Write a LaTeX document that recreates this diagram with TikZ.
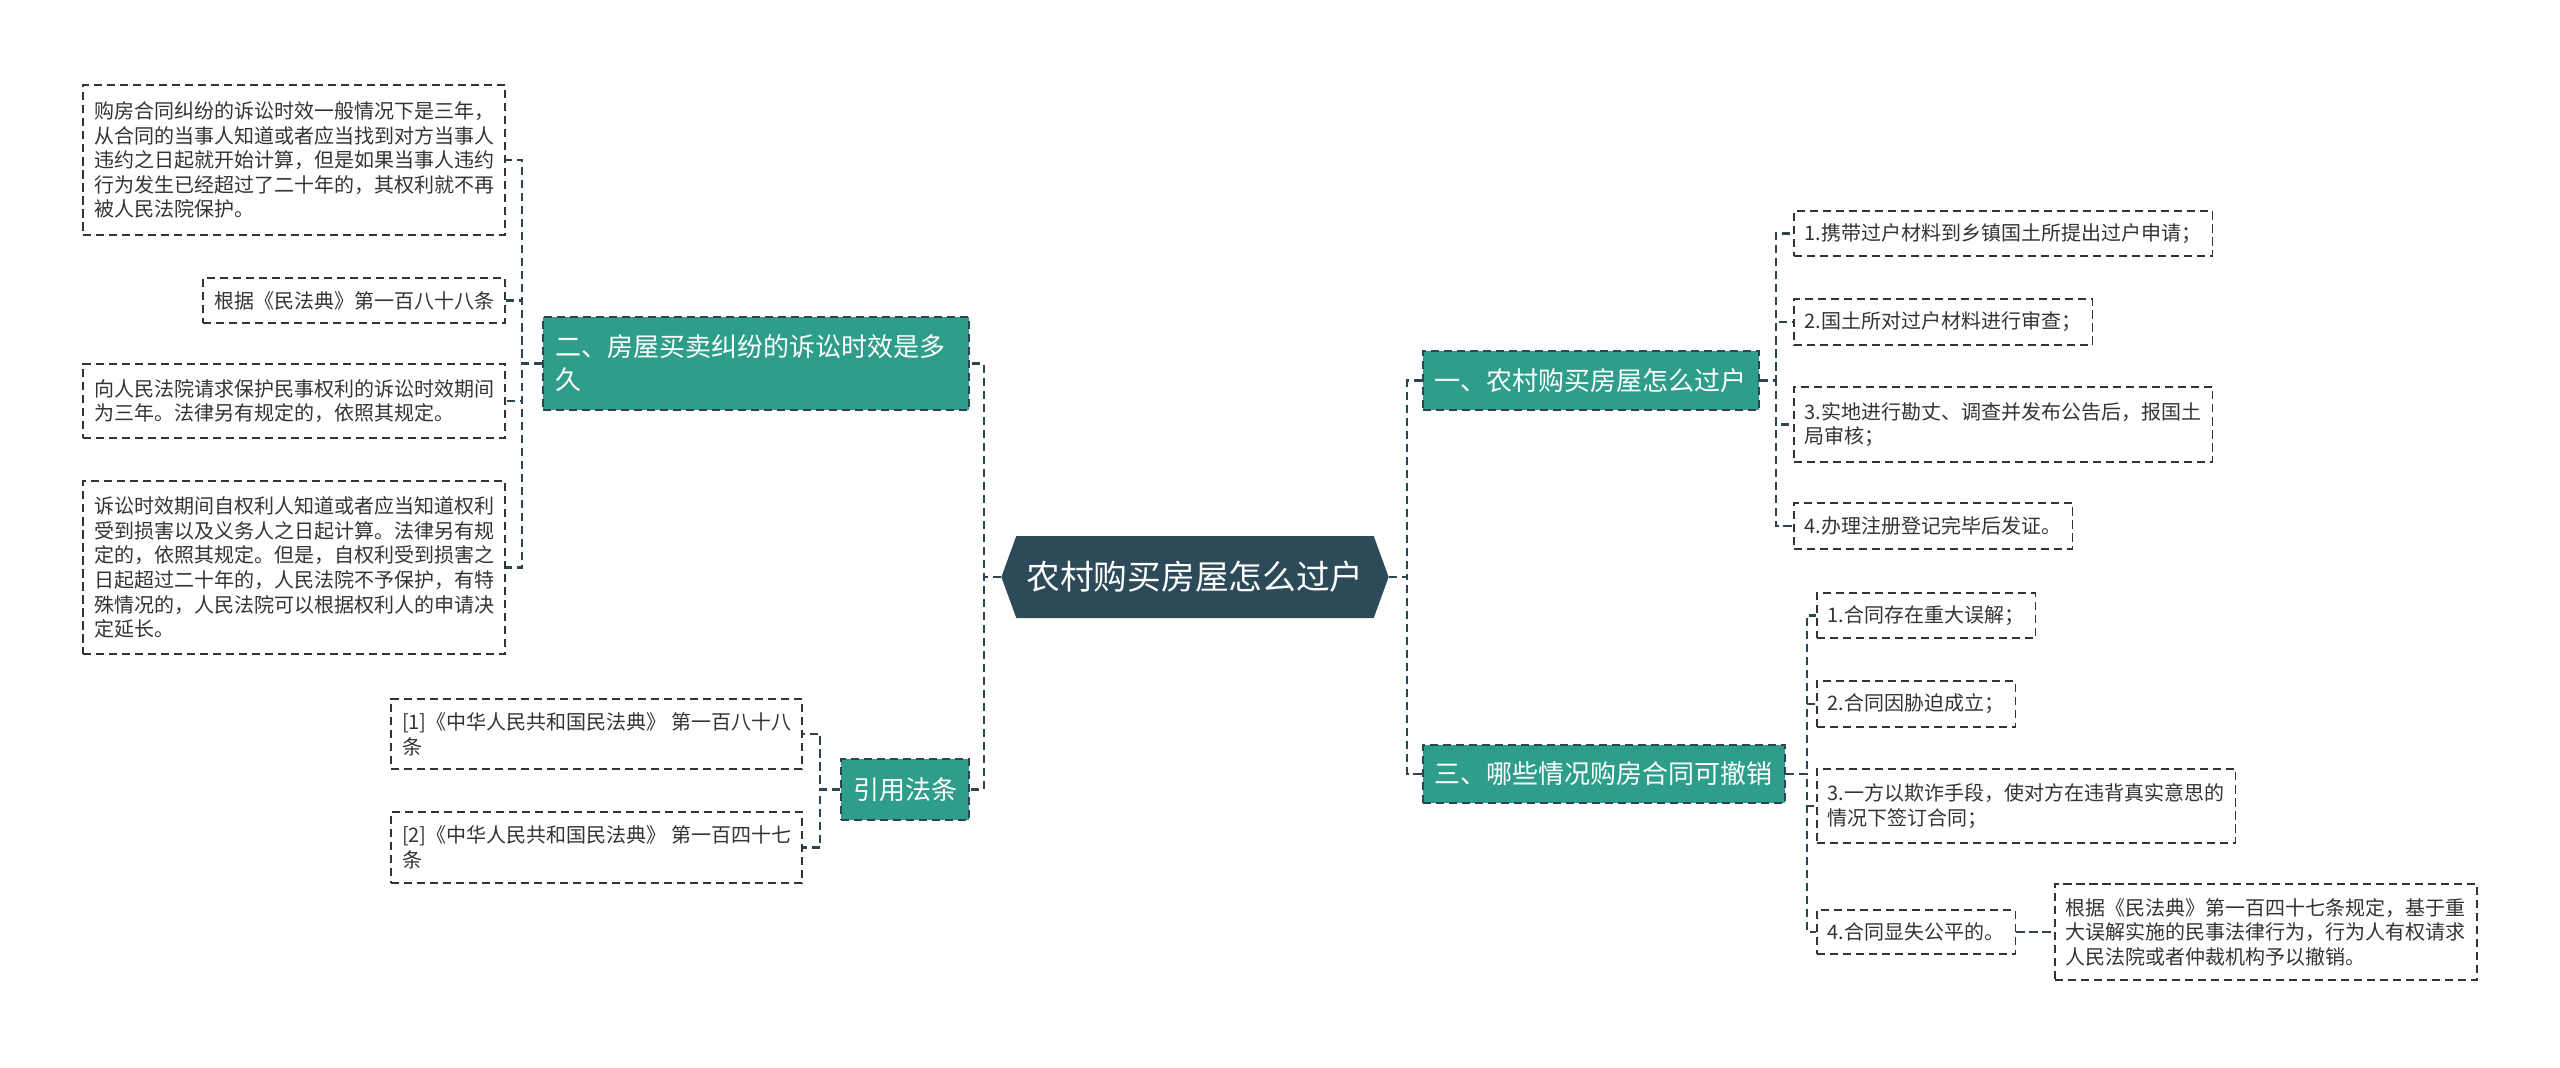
\documentclass[tikz,border=0pt]{standalone}
\usepackage{fontspec}
\setmainfont{Noto Sans CJK SC}
\usepackage{xcolor}
\usepackage{tikz}
\usetikzlibrary{shapes.symbols,positioning}
\definecolor{rootfill}{HTML}{2C4A57}
\definecolor{topicfill}{HTML}{2E9E8B}
\definecolor{linecol}{HTML}{2E4551}
\definecolor{textcol}{HTML}{333333}

\begin{document}
\begin{tikzpicture}[
        root/.style={signal, signal to=west and east, signal pointer angle=140,
                     fill=rootfill, text=white, minimum width=3.80cm, minimum height=0.82cm,
                     inner xsep=0.1cm, font=\fontsize{9.6pt}{11pt}\selectfont},
        topic/.style={fill=topicfill, draw=linecol, dash pattern=on 2.3pt off 1.4pt, line width=0.5pt,
                      text=white, align=left, inner xsep=0.12cm, font=\fontsize{7.4pt}{9.4pt}\selectfont},
        leaf/.style={draw=textcol, dash pattern=on 2.3pt off 1.4pt, line width=0.5pt,
                     text=textcol, align=left, inner xsep=0.11cm, inner ysep=0.08cm,
                     font=\fontsize{5.69pt}{7.0pt}\selectfont},
        conn/.style={draw=linecol, dash pattern=on 2.3pt off 1.4pt, line width=0.6pt},
    ]
    \useasboundingbox (0,0) rectangle (25.6,-10.67);

    % Root
    \node[root] (cen) at (11.95,-5.77) {农村购买房屋怎么过户};

    % Topics, left side
    \node[topic, anchor=east, text width=4.02cm, minimum height=0.93cm] (b2) at (9.70,-3.635)
        {二、房屋买卖纠纷的诉讼时效是多\\久};
    \node[topic, anchor=east, minimum height=0.61cm] (b4) at (9.70,-7.895) {引用法条};

    % Topics, right side
    \node[topic, anchor=west, minimum height=0.59cm] (b1) at (14.22,-3.805) {一、农村购买房屋怎么过户};
    \node[topic, anchor=west, minimum height=0.58cm] (b3) at (14.22,-7.74) {三、哪些情况购房合同可撤销};

    % Leaves of b2
    \node[leaf, anchor=east, minimum height=1.50cm] (e1) at (5.06,-1.60)
        {购房合同纠纷的诉讼时效一般情况下是三年，\\从合同的当事人知道或者应当找到对方当事人\\违约之日起就开始计算，但是如果当事人违约\\行为发生已经超过了二十年的，其权利就不再\\被人民法院保护。};
    \node[leaf, anchor=east, minimum height=0.45cm] (e2) at (5.06,-3.005) {根据《民法典》第一百八十八条};
    \node[leaf, anchor=east, minimum height=0.74cm] (e3) at (5.06,-4.01)
        {向人民法院请求保护民事权利的诉讼时效期间\\为三年。法律另有规定的，依照其规定。};
    \node[leaf, anchor=east, minimum height=1.73cm] (e4) at (5.06,-5.675)
        {诉讼时效期间自权利人知道或者应当知道权利\\受到损害以及义务人之日起计算。法律另有规\\定的，依照其规定。但是，自权利受到损害之\\日起超过二十年的，人民法院不予保护，有特\\殊情况的，人民法院可以根据权利人的申请决\\定延长。};

    % Leaves of b4
    \node[leaf, anchor=east, minimum height=0.70cm] (f1) at (8.03,-7.34)
        {[1]《中华人民共和国民法典》 第一百八十八\\条};
    \node[leaf, anchor=east, minimum height=0.71cm] (f2) at (8.03,-8.475)
        {[2]《中华人民共和国民法典》 第一百四十七\\条};

    % Leaves of b1
    \node[leaf, anchor=west, minimum height=0.45cm] (r1) at (17.93,-2.335) {1.携带过户材料到乡镇国土所提出过户申请；};
    \node[leaf, anchor=west, minimum height=0.46cm] (r2) at (17.93,-3.22) {2.国土所对过户材料进行审查；};
    \node[leaf, anchor=west, minimum height=0.75cm] (r3) at (17.93,-4.245)
        {3.实地进行勘丈、调查并发布公告后，报国土\\局审核；};
    \node[leaf, anchor=west, minimum height=0.46cm] (r4) at (17.93,-5.26) {4.办理注册登记完毕后发证。};

    % Leaves of b3
    \node[leaf, anchor=west, minimum height=0.45cm] (s1) at (18.16,-6.155) {1.合同存在重大误解；};
    \node[leaf, anchor=west, minimum height=0.46cm] (s2) at (18.16,-7.04) {2.合同因胁迫成立；};
    \node[leaf, anchor=west, minimum height=0.74cm] (s3) at (18.16,-8.06)
        {3.一方以欺诈手段，使对方在违背真实意思的\\情况下签订合同；};
    \node[leaf, anchor=west, minimum height=0.44cm] (s4) at (18.16,-9.32) {4.合同显失公平的。};
    \node[leaf, anchor=west, minimum height=0.96cm] (s4a) at (20.54,-9.32)
        {根据《民法典》第一百四十七条规定，基于重\\大误解实施的民事法律行为，行为人有权请求\\人民法院或者仲裁机构予以撤销。};

    % Connectors — root to topics
    \draw[conn] (cen.west) -- ++(-0.17,0) |- (b2.east);
    \draw[conn] (cen.west) -- ++(-0.17,0) |- (b4.east);
    \draw[conn] (cen.east) -- ++(0.18,0) |- (b1.west);
    \draw[conn] (cen.east) -- ++(0.18,0) |- (b3.west);

    % Connectors — topics to leaves
    \draw[conn] (b2.west) -- ++(-0.20,0) |- (e1.east);
    \draw[conn] (b2.west) -- ++(-0.20,0) |- (e2.east);
    \draw[conn] (b2.west) -- ++(-0.20,0) |- (e3.east);
    \draw[conn] (b2.west) -- ++(-0.20,0) |- (e4.east);
    \draw[conn] (b4.west) -- ++(-0.20,0) |- (f1.east);
    \draw[conn] (b4.west) -- ++(-0.20,0) |- (f2.east);
    \draw[conn] (b1.east) -- ++(0.16,0) |- (r1.west);
    \draw[conn] (b1.east) -- ++(0.16,0) |- (r2.west);
    \draw[conn] (b1.east) -- ++(0.16,0) |- (r3.west);
    \draw[conn] (b1.east) -- ++(0.16,0) |- (r4.west);
    \draw[conn] (b3.east) -- ++(0.21,0) |- (s1.west);
    \draw[conn] (b3.east) -- ++(0.21,0) |- (s2.west);
    \draw[conn] (b3.east) -- ++(0.21,0) |- (s3.west);
    \draw[conn] (b3.east) -- ++(0.21,0) |- (s4.west);
    \draw[conn] (s4.east) -- (s4a.west);
\end{tikzpicture}
\end{document}
